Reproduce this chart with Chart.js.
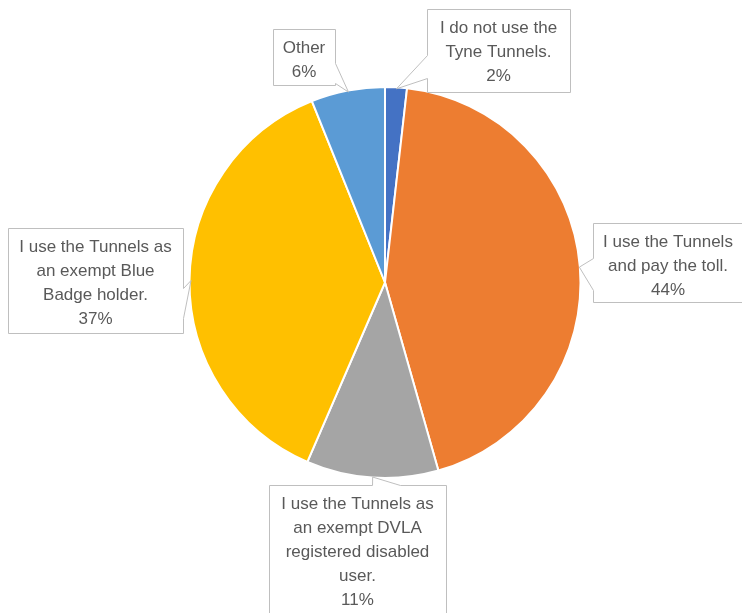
<!DOCTYPE html>
<html><head><meta charset="utf-8">
<script src="https://cdn.jsdelivr.net/npm/chart.js@4"></script>
<style>html,body{margin:0;padding:0;background:#fff}#wrap{width:742px;height:613px}</style>
</head><body><div id="wrap"><canvas id="c" width="742" height="613"></canvas></div>
<script>
const categories = [
  "I do not use the Tyne Tunnels.",
  "I use the Tunnels and pay the toll.",
  "I use the Tunnels as an exempt DVLA registered disabled user.",
  "I use the Tunnels as an exempt Blue Badge holder.",
  "Other"
];
const values = [1.8, 43.8, 10.9, 37.4, 6.1];
const labelLines = [
  ["I do not use the", "Tyne Tunnels."],
  ["I use the Tunnels", "and pay the toll."],
  ["I use the Tunnels as", "an exempt DVLA", "registered disabled", "user."],
  ["I use the Tunnels as", "an exempt Blue", "Badge holder."],
  ["Other"]
];
const colors = ["#4472C4", "#ED7D31", "#A5A5A5", "#FFC000", "#5B9BD5"];

// callout box layout (x, y, w, h, side of pointer, base range along that side)
const boxes = [
  {x:427, y:9,   w:143, h:83,  side:"left",   b0:55,  b1:78},
  {x:593, y:223, w:150, h:79,  side:"left",   b0:258, b1:290},
  {x:269, y:485, w:177, h:140, side:"top",    b0:372, b1:400},
  {x:8,   y:228, w:175, h:105, side:"right",  b0:288, b1:318},
  {x:273, y:29,  w:62,  h:56,  side:"right",  b0:63,  b1:83}
];

const calloutPlugin = {
  id: 'callouts',
  afterDatasetsDraw(chart) {
    const ctx = chart.ctx;
    const meta = chart.getDatasetMeta(0);
    const total = values.reduce((a,b)=>a+b,0);
    meta.data.forEach((arc, i) => {
      const p = arc.getProps(['x','y','startAngle','endAngle','outerRadius'], true);
      const mid = (p.startAngle + p.endAngle) / 2;
      const tx = p.x + Math.cos(mid) * (p.outerRadius - 1);
      const ty = p.y + Math.sin(mid) * (p.outerRadius - 1);
      const b = boxes[i];
      const pts = [];
      const L=b.x, T=b.y, R=b.x+b.w, B=b.y+b.h;
      pts.push([L,T]);
      if (b.side==="top") { pts.push([b.b0,T],[tx,ty],[b.b1,T]); }
      pts.push([R,T]);
      if (b.side==="right") { pts.push([R,b.b0],[tx,ty],[R,b.b1]); }
      pts.push([R,B]);
      pts.push([L,B]);
      if (b.side==="left") { pts.push([L,b.b1],[tx,ty],[L,b.b0]); }
      ctx.save();
      ctx.beginPath();
      pts.forEach((q,k)=> k?ctx.lineTo(q[0]+0.5,q[1]+0.5):ctx.moveTo(q[0]+0.5,q[1]+0.5));
      ctx.closePath();
      ctx.fillStyle = '#fff';
      ctx.fill();
      ctx.strokeStyle = '#BFBFBF';
      ctx.lineWidth = 1;
      ctx.stroke();
      const lines = labelLines[i].concat([Math.round(values[i]/total*100) + '%']);
      ctx.fillStyle = '#595959';
      ctx.font = '17px "Liberation Sans Narrow", "Liberation Sans", sans-serif';
      ctx.textAlign = 'center';
      ctx.textBaseline = 'middle';
      const lh = 24;
      const cx = b.x + b.w/2;
      const startY = b.y + 19;
      lines.forEach((ln, k) => ctx.fillText(ln, cx, startY + k*lh));
      ctx.restore();
    });
  }
};

new Chart(document.getElementById('c'), {
  type: 'pie',
  data: {
    labels: categories,
    datasets: [{
      data: values,
      backgroundColor: colors,
      borderColor: '#ffffff',
      borderWidth: 2
    }]
  },
  options: {
    responsive: false,
    animation: false,
    layout: { padding: { left: 98, right: 70, top: 86, bottom: 134 } },
    plugins: { legend: { display: false }, tooltip: { enabled: false } }
  },
  plugins: [calloutPlugin]
});
</script>
</body></html>
